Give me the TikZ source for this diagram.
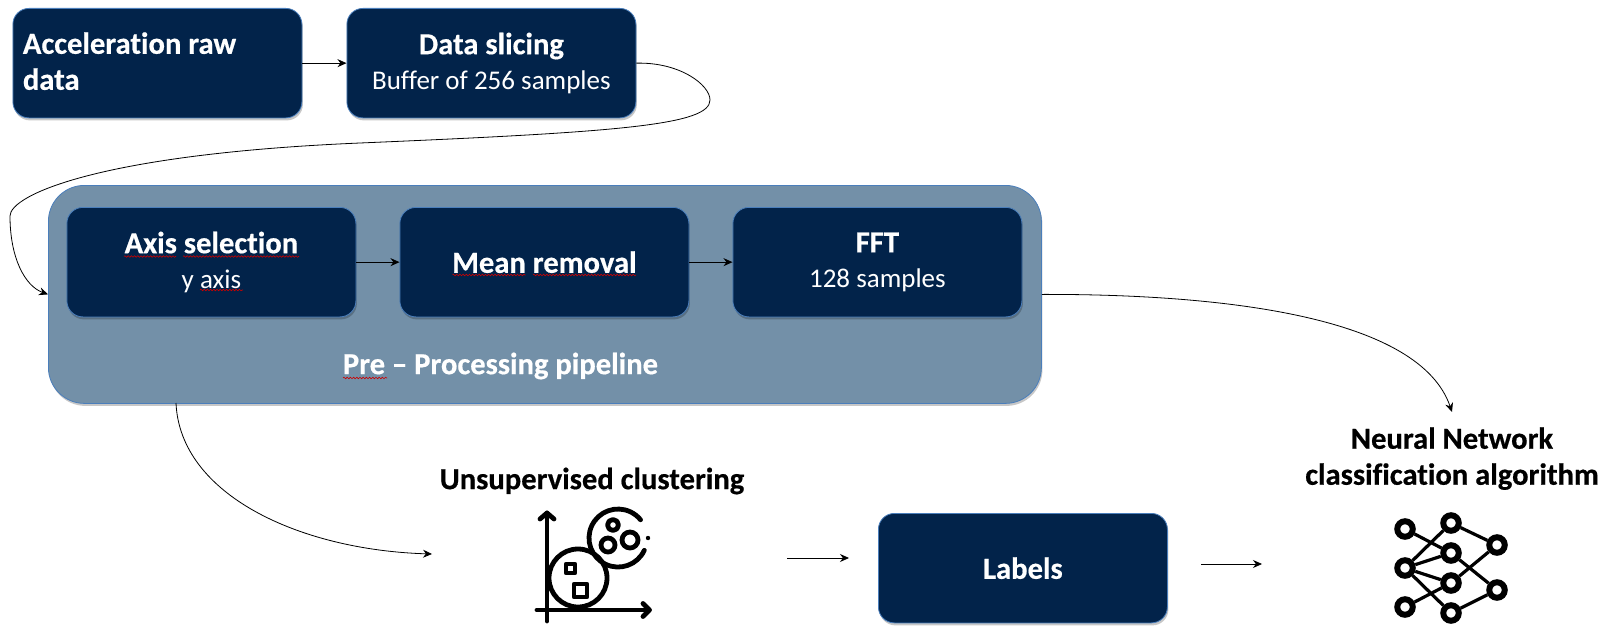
\documentclass[tikz,border=0pt]{standalone}
\usepackage{fontspec}
\setmainfont[Ligatures=NoCommon,BoldFeatures={FakeBold=0.5}]{Carlito}
\usetikzlibrary{arrows.meta,shadows,decorations.pathmorphing}
\definecolor{navy}{HTML}{02234A}
\definecolor{steel}{HTML}{7390A8}
\definecolor{rim}{HTML}{4A7EBB}
\newcommand{\bigt}{\fontsize{30.6}{36}\selectfont\bfseries}
\newcommand{\subt}{\fontsize{27}{35}\selectfont}
\tikzset{
  x=1pt,y=-1pt,
  shade box/.style={draw=rim,line width=.8pt,drop shadow={shadow xshift=1pt,shadow yshift=-2.5pt,opacity=.22,fill=black},rounded corners=16pt,minimum width=289pt,minimum height=109.5pt,inner sep=0pt,fill=navy,text=white,align=center,anchor=north west,font=\subt},
  pipebox/.style={shade box,fill=steel,rounded corners=36pt,minimum width=993pt,minimum height=218pt},
  link/.style={draw=black,line width=.8pt,-{Stealth[length=9pt,width=8pt]}},
  blacktitle/.style={text=black,align=center,font=\bigt,inner sep=0pt},
  whitetitle/.style={text=white,align=center,font=\bigt,inner sep=0pt},
  squig/.style={draw=red!80!black,line width=.6pt,decorate,decoration={snake,amplitude=.8pt,segment length=3.2pt}},
  ico/.style={line width=4.8pt,draw=black,line cap=round,line join=round},
  nnode/.style={circle,draw=black,fill=white,line width=6pt,minimum size=15.5pt,inner sep=0pt},
  nedge/.style={line width=3.2pt,draw=black},
}
\begin{document}
\begin{tikzpicture}
\useasboundingbox (0,0) rectangle (1612,634);
\fill[white] (0,0) rectangle (1612,634);
% top row
\node[shade box,align=left] (raw) at (12.5,8) {\begin{minipage}{269pt}\bigt Acceleration raw\\ data\vspace{4pt}\end{minipage}};
\node[shade box] (slice) at (346.5,8) {{\bigt Data slicing}\\ Buffer of 256 samples};
\draw[link] (raw.east) -- (slice.west);
% pipeline
\node[pipebox] (pipe) at (48,185) {};
\node[shade box] (axis) at (66.5,207) {{\bigt Axis selection}\\ y axis};
\node[shade box] (mean) at (399.5,207) {\bigt Mean removal};
\node[shade box] (fft) at (732.5,207) {{\bigt FFT}\\ 128 samples};
\node[whitetitle] (pipelabel) at (500.5,366) {Pre – Processing pipeline};
\draw[link] (axis) -- (mean);
\draw[link] (mean) -- (fft);
\draw[link] (slice.east) .. controls (680,62) and (710,85) .. (710,100)
   .. controls (710,125) and (620,132) .. (360,143)
   .. controls (100,154) and (10,195) .. (10,216)
   .. controls (10,258) and (25,286) .. (pipe.west);
% spell-check marks
\draw[squig] (124,256.5) -- (176,256.5);
\draw[squig] (183,256.5) -- (299,256.5);
\draw[squig] (200,290) -- (243,290);
\draw[squig] (452.5,275) -- (525.5,275);
\draw[squig] (533,275) -- (636,275);
\draw[squig] (343,378) -- (387,378);
% bottom
\coordinate (clusterin) at (432,554);
\coordinate (nnin) at (1452,412);
\draw[link] (pipe.east) .. controls (1230,294) and (1420,318) .. (nnin);
\draw[link] (176,403) .. controls (180,495) and (300,550) .. (clusterin);
\node[blacktitle] (cltitle) at (592,481) {Unsupervised clustering};
\node[blacktitle,text depth=0pt] (nntitle) at (1452,456) {Neural Network\\ classification algorithm};
\node[shade box] (labels) at (878,513) {\bigt Labels};
\coordinate (a1) at (787,558); \coordinate (a2) at (849,558);
\coordinate (b1) at (1201,564); \coordinate (b2) at (1262,564);
\draw[link] (a1) -- (a2);
\draw[link] (b1) -- (b2);
% cluster icon
\draw[ico] (547,621) -- (547,513);
\draw[ico] (540,519) -- (547,513) -- (554,519);
\draw[ico] (537,610) -- (649,610);
\draw[ico] (643,603.5) -- (649.5,610) -- (643,616.5);
\draw[ico,fill=white] (578,578) circle (29);
\draw[ico] (644.3,550.3) arc (25:321:29);
\draw[ico] (613,525) circle (5.5);
\draw[ico] (608,545) circle (7);
\draw[ico] (630,540) circle (8);
\fill (648,538) circle (2.2);
\draw[ico] (566,564) rectangle (575,573);
\draw[ico] (574,584) rectangle (587,597);
% network icon
\node[nnode] (l1) at (1405,529) {};
\node[nnode] (l2) at (1405,568) {};
\node[nnode] (l3) at (1405,607) {};
\node[nnode] (m1) at (1451,523) {};
\node[nnode] (m2) at (1451,553) {};
\node[nnode] (m3) at (1451,583) {};
\node[nnode] (m4) at (1451,613) {};
\node[nnode] (r1) at (1497,545) {};
\node[nnode] (r2) at (1497,590) {};
\foreach \p/\q in {l1/m2,l2/m1,l2/m2,l2/m3,l2/m4,l3/m3,m1/r1,m2/r2,m3/r1,m4/r2}
  \draw[nedge] (\p) -- (\q);
\end{tikzpicture}
\end{document}
